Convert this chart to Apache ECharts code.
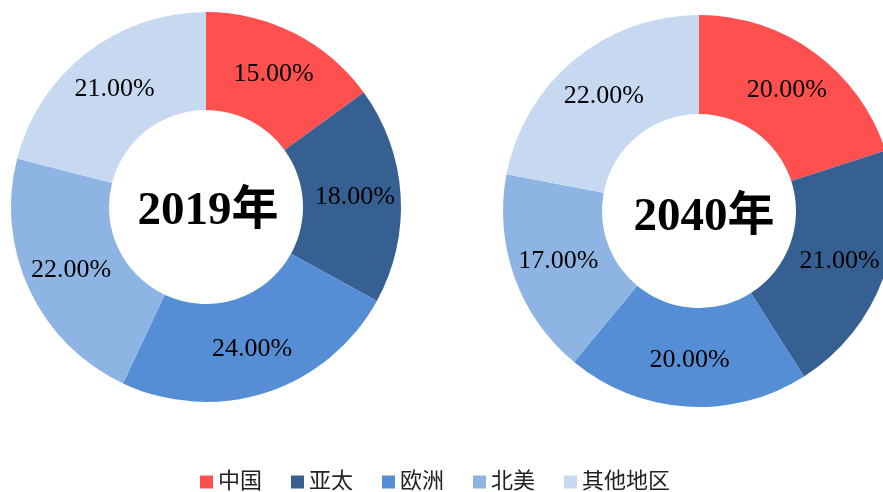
<!DOCTYPE html>
<html><head><meta charset="utf-8">
<script src="https://cdn.jsdelivr.net/npm/echarts@6/dist/echarts.min.js"></script>
<style>html,body{margin:0;padding:0;background:#fff}#c{width:883px;height:492px}</style>
</head><body><div id="c"></div>
<script>
const categories = ['中国', '亚太', '欧洲', '北美', '其他地区'];
const values2019 = [15, 18, 24, 22, 21];
const values2040 = [20, 21, 20, 17, 22];
const titles = ['2019年', '2040年'];
const colors = ['#FF5050', '#376092', '#558ED5', '#8EB4E3', '#C6D9F1'];

const chart = echarts.init(document.getElementById('c'), null, {renderer: 'canvas'});
function mk(vals) { return categories.map((n, i) => ({name: n, value: vals[i]})); }
const serif = '"Liberation Serif", "Times New Roman", "Noto Sans CJK SC", serif';
const labelCfg = {
  show: true, position: 'inside', color: '#000',
  fontFamily: serif, fontSize: 26, padding: [6, 0, 0, 0],
  formatter: p => p.value.toFixed(2) + '%'
};
chart.setOption({
  animation: false,
  color: colors,
  title: [
    {text: titles[0], left: 203, top: 207, textAlign: 'center', textVerticalAlign: 'middle',
     textStyle: {fontFamily: serif, fontSize: 47, fontWeight: 'bold', color: '#000'}},
    {text: titles[1], left: 699, top: 213, textAlign: 'center', textVerticalAlign: 'middle',
     textStyle: {fontFamily: serif, fontSize: 47, fontWeight: 'bold', color: '#000'}}
  ],
  legend: {
    data: categories, left: 195, top: 466,
    icon: 'rect', itemWidth: 13, itemHeight: 13, itemGap: 29,
    textStyle: {fontFamily: serif, fontSize: 22, color: '#222'}
  },
  series: [
    {type: 'pie', center: [206, 207], radius: [97, 195], startAngle: 90, clockwise: true,
     label: labelCfg, labelLine: {show: false}, itemStyle: {borderWidth: 0},
     emphasis: {disabled: true}, data: mk(values2019)},
    {type: 'pie', center: [699, 211], radius: [97, 196], startAngle: 90, clockwise: true,
     label: labelCfg, labelLine: {show: false}, itemStyle: {borderWidth: 0},
     emphasis: {disabled: true}, data: mk(values2040)}
  ]
});
</script></body></html>
